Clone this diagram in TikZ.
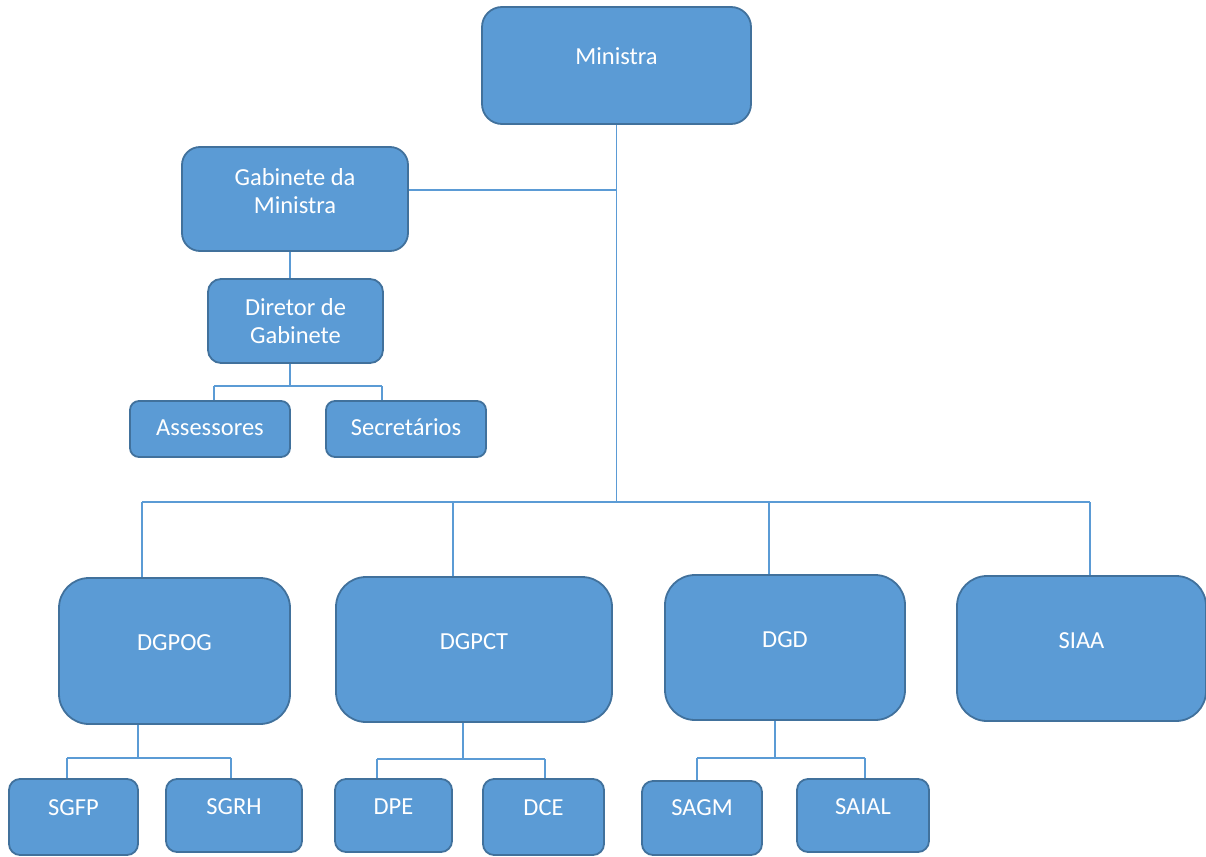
\documentclass[tikz,border=0pt]{standalone}
\usepackage{fontspec}
\setmainfont{Carlito}
\definecolor{fillb}{HTML}{5B9BD5}
\definecolor{edgeb}{HTML}{41719C}
\definecolor{linkb}{HTML}{5B9BD5}
\begin{document}
\begin{tikzpicture}[x=1pt,y=-1pt,
  box/.style={draw=edgeb, fill=fillb, line width=1.8pt, inner sep=0pt},
  lbl/.style={text=white, font=\fontsize{24.5}{28}\selectfont, align=center, inner sep=0pt},
  lbla/.style={lbl, text height=0.644em, text depth=0pt},
  link/.style={draw=linkb, line width=1.1pt}]
\useasboundingbox (0,0) rectangle (1206,856);

% boxes
\node[box, rounded corners=20pt, minimum width=269pt, minimum height=117pt] (min) at (616.5,65.5) {};
\node[box, rounded corners=18pt, minimum width=226pt, minimum height=104pt] (gab) at (295,199) {};
\node[box, rounded corners=13pt, minimum width=175pt, minimum height=84pt] (dir) at (295.5,321) {};
\node[box, rounded corners=9pt, minimum width=160pt, minimum height=56pt] (ass) at (210,429) {};
\node[box, rounded corners=9pt, minimum width=160pt, minimum height=56pt] (sec) at (406,429) {};

\node[box, rounded corners=30pt, minimum width=231pt, minimum height=146pt] (dgpog) at (174.5,651) {};
\node[box, rounded corners=30pt, minimum width=276pt, minimum height=145pt] (dgpct) at (474,649.5) {};
\node[box, rounded corners=30pt, minimum width=240pt, minimum height=145pt] (dgd) at (785,647.5) {};
\node[box, rounded corners=30pt, minimum width=249pt, minimum height=145pt] (siaa) at (1081.5,648.5) {};

\node[box, rounded corners=11pt, minimum width=129pt, minimum height=76pt] (sgfp) at (73.5,817) {};
\node[box, rounded corners=11pt, minimum width=136pt, minimum height=73pt] (sgrh) at (234,815.5) {};
\node[box, rounded corners=11pt, minimum width=117pt, minimum height=73pt] (dpe) at (393.5,815.5) {};
\node[box, rounded corners=11pt, minimum width=121pt, minimum height=76pt] (dce) at (543.5,817) {};
\node[box, rounded corners=11pt, minimum width=120pt, minimum height=74pt] (sagm) at (702,818) {};
\node[box, rounded corners=11pt, minimum width=132pt, minimum height=73pt] (saial) at (863,815.5) {};

% labels
\node[lbla] (minT) at ([yshift=4.5pt]min.center) {Ministra};
\node[lbl] (gabT) at ([yshift=8pt]gab.center) {Gabinete da\\Ministra};
\node[lbl] (dirT) at (dir.center) {Diretor de\\Gabinete};
\node[lbla] (assT) at ([yshift=-3pt]ass.center) {Assessores};
\node[lbla] (secT) at ([yshift=-3pt]sec.center) {Secretários};
\node[lbla] (dgpogT) at ([yshift=4pt]dgpog.center) {DGPOG};
\node[lbla] (dgpctT) at ([yshift=3.5pt]dgpct.center) {DGPCT};
\node[lbla] (dgdT) at ([yshift=3.5pt]dgd.center) {DGD};
\node[lbla] (siaaT) at ([yshift=3.5pt]siaa.center) {SIAA};
\node[lbla] (sgfpT) at ([yshift=5pt]sgfp.center) {SGFP};
\node[lbla] (sgrhT) at ([yshift=4.5pt]sgrh.center) {SGRH};
\node[lbla] (dpeT) at ([yshift=4.5pt]dpe.center) {DPE};
\node[lbla] (dceT) at ([yshift=5pt]dce.center) {DCE};
\node[lbla] (sagmT) at ([yshift=6pt]sagm.center) {SAGM};
\node[lbla] (saialT) at ([yshift=4.5pt]saial.center) {SAIAL};

% junction coordinates
\coordinate (mbus) at (616.5,502);
\coordinate (gj) at (616.5,190);
\coordinate (gd) at (290,251);
\coordinate (bl) at (142,502);
\coordinate (b2) at (453,502);
\coordinate (b3) at (769,502);
\coordinate (br) at (1090,502);
\coordinate (dj) at (290,386);
\coordinate (dl) at (214,386);
\coordinate (dr) at (382,386);
\coordinate (j1) at (138,758);
\coordinate (j1l) at (67,758);
\coordinate (j1r) at (231,758);
\coordinate (j2) at (463,759);
\coordinate (j2l) at (377,759);
\coordinate (j2r) at (545,759);
\coordinate (j3) at (775,758);
\coordinate (j3l) at (697,758);
\coordinate (j3r) at (865,758);

% connectors
\draw[link] (min.south) -- (mbus);
\draw[link] (gj) -- (gj -| gab.east);
\draw[link] (gd |- gab.south) -- (gd |- dir.north);
\draw[link] (dj |- dir.south) -- (dj);
\draw[link] (dl) -- (dr);
\draw[link] (dl) -- (dl |- ass.north);
\draw[link] (dr) -- (dr |- sec.north);

\draw[link] (bl) -- (br);
\draw[link] (bl) -- (bl |- dgpog.north);
\draw[link] (b2) -- (b2 |- dgpct.north);
\draw[link] (b3) -- (b3 |- dgd.north);
\draw[link] (br) -- (br |- siaa.north);

\draw[link] (j1 |- dgpog.south) -- (j1);
\draw[link] (j1l) -- (j1r);
\draw[link] (j1l) -- (j1l |- sgfp.north);
\draw[link] (j1r) -- (j1r |- sgrh.north);

\draw[link] (j2 |- dgpct.south) -- (j2);
\draw[link] (j2l) -- (j2r);
\draw[link] (j2l) -- (j2l |- dpe.north);
\draw[link] (j2r) -- (j2r |- dce.north);

\draw[link] (j3 |- dgd.south) -- (j3);
\draw[link] (j3l) -- (j3r);
\draw[link] (j3l) -- (j3l |- sagm.north);
\draw[link] (j3r) -- (j3r |- saial.north);
\end{tikzpicture}
\end{document}
